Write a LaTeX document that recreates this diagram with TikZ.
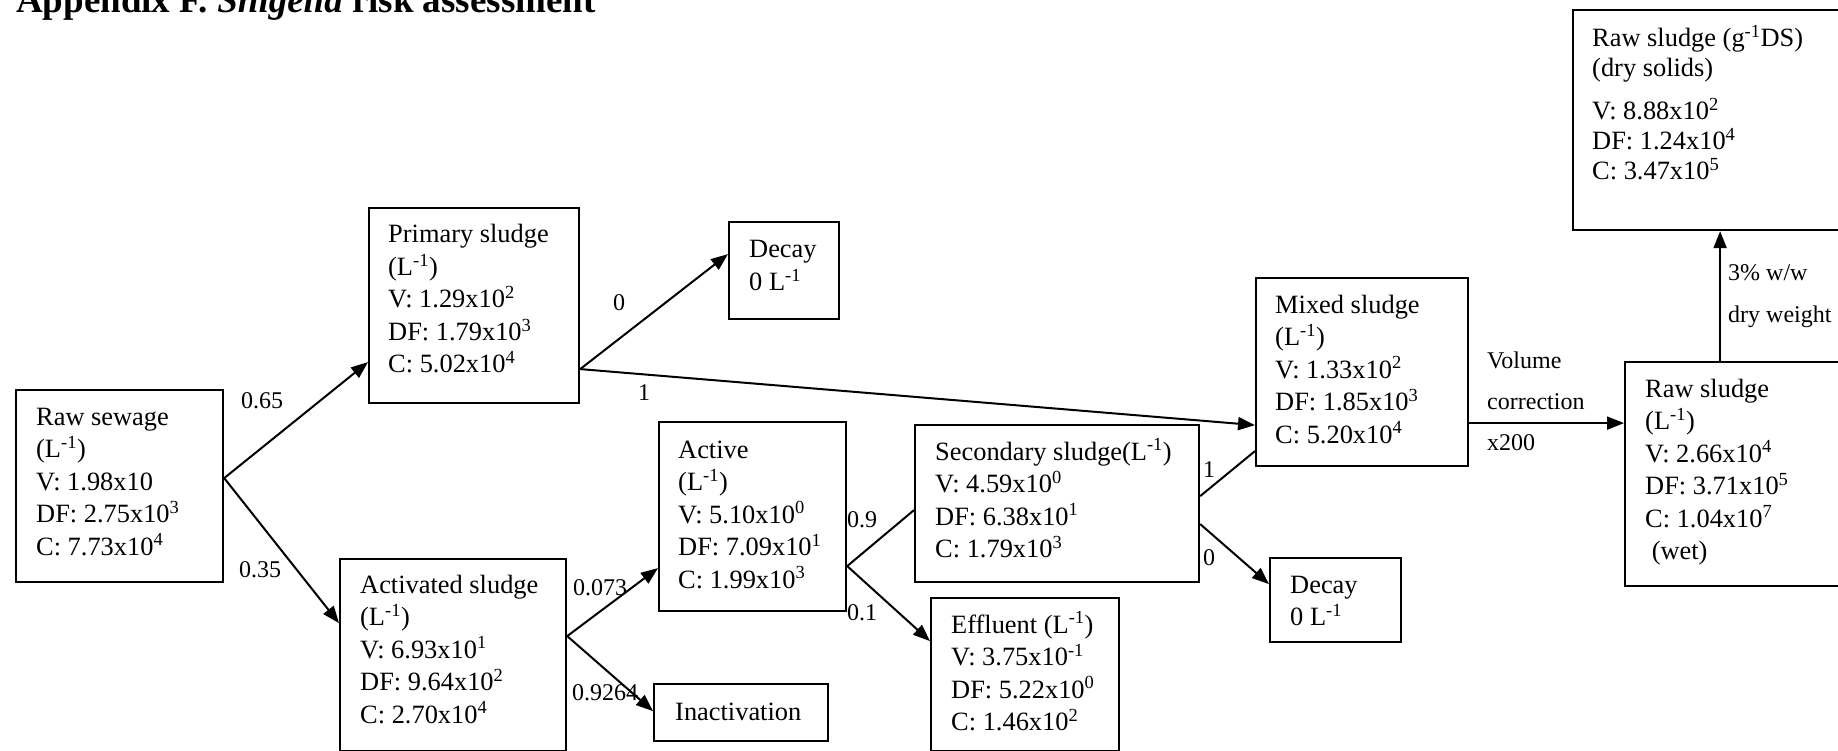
\documentclass[tikz,border=0pt]{standalone}
\usepackage{fontspec}
\setmainfont{Liberation Serif}
\usetikzlibrary{arrows.meta}
\newcommand{\sups}[1]{\textsuperscript{#1}}
\newcommand{\cell}[1]{\begin{tabular}[t]{@{}l@{}}#1\end{tabular}}

\begin{document}
\begin{tikzpicture}[x=1pt,y=1pt,
  box/.style={draw, line width=2.2pt, anchor=north west, inner sep=0pt},
  txt/.style={anchor=base west, inner sep=0pt, font=\fontsize{26.4}{32.5}\selectfont},
  lbl/.style={anchor=base west, inner sep=0pt, font=\fontsize{24}{41}\selectfont},
  arr/.style={line width=2pt, -{Triangle[length=17pt,width=13pt]}},
  link/.style={line width=2pt}]

% page
\fill[white] (0,0) rectangle (1838,-751);
\useasboundingbox (0,0) rectangle (1838,-751);
\clip (0,0) rectangle (1838,-751);

% heading
\node (title) [anchor=base west, inner sep=0pt, font=\fontsize{37}{44}\selectfont\bfseries]
  at (16,-13) {Appendix F. \textit{Shigella} risk assessment};

% boxes
\node (rs) [box, minimum width=207pt, minimum height=192pt] at (15,-389) {};
\node (ps) [box, minimum width=210pt, minimum height=195pt] at (368,-207) {};
\node (dt) [box, minimum width=110pt, minimum height=97pt]  at (728,-221) {};
\node (as) [box, minimum width=226pt, minimum height=192pt] at (339,-558) {};
\node (ac) [box, minimum width=187pt, minimum height=189pt] at (658,-421) {};
\node (in) [box, minimum width=174pt, minimum height=57pt]  at (653,-683) {};
\node (ss) [box, minimum width=284pt, minimum height=157pt] at (914,-424) {};
\node (ef) [box, minimum width=188pt, minimum height=153pt] at (930,-597) {};
\node (db) [box, minimum width=131pt, minimum height=84pt]  at (1269,-557) {};
\node (mx) [box, minimum width=212pt, minimum height=188pt] at (1255,-277) {};
\node (rw) [box, minimum width=226pt, minimum height=224pt] at (1624,-361) {};
\node (ds) [box, minimum width=278pt, minimum height=220pt] at (1572,-9) {};

% box contents
\node (rs-t) [txt] at (36,-425) {\cell{Raw sewage\\(L\sups{-1})\\V: 1.98x10\\DF: 2.75x10\sups{3}\\C: 7.73x10\sups{4}}};
\node (ps-t) [txt] at (388,-243) {\cell{Primary sludge\\(L\sups{-1})\\V: 1.29x10\sups{2}\\DF: 1.79x10\sups{3}\\C: 5.02x10\sups{4}}};
\node (dt-t) [txt] at (749,-258) {\cell{Decay\\0 L\sups{-1}}};
\node (as-t) [txt] at (360,-593) {\cell{Activated sludge\\(L\sups{-1})\\V: 6.93x10\sups{1}\\DF: 9.64x10\sups{2}\\C: 2.70x10\sups{4}}};
\node (ac-t) [txt] at (678,-458) {\cell{Active\\(L\sups{-1})\\V: 5.10x10\sups{0}\\DF: 7.09x10\sups{1}\\C: 1.99x10\sups{3}}};
\node (in-t) [txt] at (675,-720) {Inactivation};
\node (ss-t) [txt] at (935,-460) {\cell{Secondary sludge(L\sups{-1})\\V: 4.59x10\sups{0}\\DF: 6.38x10\sups{1}\\C: 1.79x10\sups{3}}};
\node (ef-t) [txt] at (951,-633) {\cell{Effluent (L\sups{-1})\\V: 3.75x10\sups{-1}\\DF: 5.22x10\sups{0}\\C: 1.46x10\sups{2}}};
\node (db-t) [txt] at (1290,-593) {\cell{Decay\\0 L\sups{-1}}};
\node (mx-t) [txt] at (1275,-313) {\cell{Mixed sludge\\(L\sups{-1})\\V: 1.33x10\sups{2}\\DF: 1.85x10\sups{3}\\C: 5.20x10\sups{4}}};
\node (rw-t) [txt] at (1645,-397) {\cell{Raw sludge\\(L\sups{-1})\\V: 2.66x10\sups{4}\\DF: 3.71x10\sups{5}\\C: 1.04x10\sups{7}\\\hspace*{0.25em}(wet)}};
\node (ds-t) [txt, font=\fontsize{26.4}{29.5}\selectfont] at (1592,-47)
  {\cell{Raw sludge (g\sups{-1}DS)\\(dry solids)\\[13pt]V: 8.88x10\sups{2}\\DF: 1.24x10\sups{4}\\C: 3.47x10\sups{5}}};

% connectors
\draw[arr]  ([yshift=8pt]rs.east) -- ([yshift=-56.5pt]ps.west);
\draw[arr]  ([yshift=8pt]rs.east) -- ([yshift=32pt]as.west);
\draw[arr]  ([yshift=-63.5pt]ps.east) -- ([yshift=16.5pt]dt.west);
\draw[arr]  ([yshift=-63.5pt]ps.east) -- ([yshift=-53pt]mx.west);
\draw[arr]  ([yshift=19pt]as.east) -- ([yshift=-51.5pt]ac.west);
\draw[arr]  ([yshift=19pt]as.east) -- ([yshift=1.5pt]in.west);
\draw[link] ([yshift=-49.5pt]ac.east) -- ([yshift=-6.5pt]ss.west);
\draw[arr]  ([yshift=-49.5pt]ac.east) -- ([yshift=33.5pt]ef.west);
\draw[link] ([yshift=7.5pt]ss.east) -- ([yshift=-79pt]mx.west);
\draw[arr]  ([yshift=-20.5pt]ss.east) -- ([yshift=16pt]db.west);
\draw[arr]  ([yshift=-51pt]mx.east) -- ([yshift=51pt]rw.west);
\draw[arr]  ([xshift=-18pt]rw.north) -- ([xshift=8pt]ds.south);

% connector labels
\node (l-rp) [lbl] at (241,-408) {0.65};
\node (l-ra) [lbl] at (239,-577) {0.35};
\node (l-pd) [lbl] at (613,-310) {0};
\node (l-pm) [lbl] at (638,-400) {1};
\node (l-aa) [lbl] at (573,-595) {0.073};
\node (l-ai) [lbl] at (572,-700) {0.9264};
\node (l-cs) [lbl] at (847,-527) {0.9};
\node (l-ce) [lbl] at (847,-620) {0.1};
\node (l-sm) [lbl] at (1203,-477) {1};
\node (l-sd) [lbl] at (1203,-565) {0};
\node (l-vc) [lbl] at (1487,-368) {\cell{Volume\\correction\\x200}};
\node (l-dw) [lbl, font=\fontsize{24}{42}\selectfont] at (1728,-280) {\cell{3\% w/w\\dry weight}};
\end{tikzpicture}
\end{document}
